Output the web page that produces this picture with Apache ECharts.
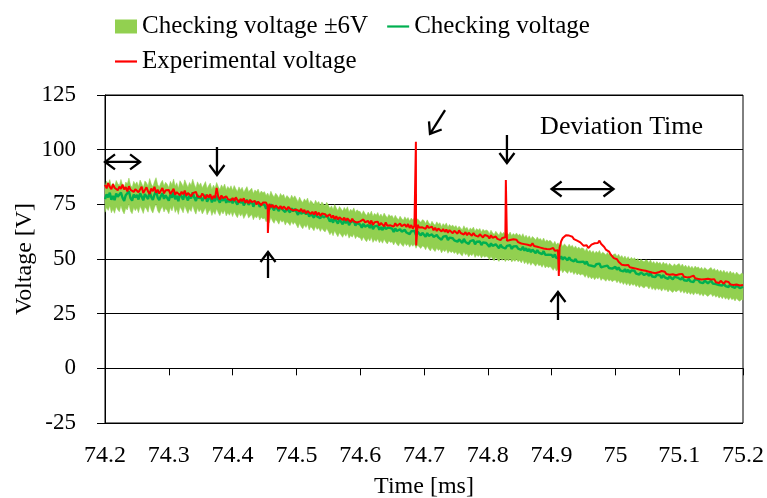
<!DOCTYPE html>
<html>
<head>
<meta charset="utf-8">
<script src="https://cdn.jsdelivr.net/npm/echarts@6/dist/echarts.min.js"></script>
<style>
  html, body { margin: 0; padding: 0; background: #fff; }
  #chart { width: 767px; height: 498px; }
</style>
</head>
<body>
<div id="chart"></div>
<script>
// Sampling grid of the traces (ms)
const timeStart = 74.2;
const timeStep = 0.0025;

// Checking voltage [V], one value per sample (20 samples per row = 0.05 ms)
const checkingVoltage = [
  77.4, 79.6, 78.2, 80.3, 77.1, 78.8, 76.9, 79.9, 78.5, 77.6, 80.4, 78.0, 76.6, 79.2, 78.4, 81.0, 77.8, 76.7, 79.5, 78.1,
  79.3, 77.2, 80.1, 78.6, 76.8, 79.7, 78.9, 77.4, 80.8, 78.3, 77.0, 79.4, 81.2, 78.1, 76.9, 78.8, 80.0, 77.5, 79.1, 78.2,
  76.7, 79.5, 78.0, 80.6, 77.3, 78.9, 76.4, 79.8, 78.6, 77.1, 80.2, 78.4, 76.8, 79.0, 77.7, 80.5, 78.1, 76.5, 79.3, 77.6,
  78.8, 76.6, 77.9, 79.4, 76.2, 77.6, 78.7, 75.9, 77.8, 76.4, 79.0, 77.1, 75.8, 77.9, 76.6, 78.3, 75.7, 77.2, 76.0, 77.5,
  75.4, 77.6, 76.1, 74.9, 77.0, 75.6, 76.8, 74.5, 75.9, 77.1, 74.8, 75.5, 76.4, 73.9, 75.6, 74.7, 76.0, 73.8, 75.1, 74.3,
  74.8, 73.0, 74.2, 72.6, 75.0, 73.4, 72.3, 74.1, 73.2, 71.9, 74.0, 72.8, 73.6, 71.5, 73.0, 72.4, 71.3, 73.2, 71.8, 72.9,
  71.6, 70.2, 72.3, 70.7, 69.8, 71.5, 70.4, 71.9, 69.3, 70.8, 70.0, 68.9, 70.9, 69.5, 70.3, 68.6, 70.1, 69.0, 68.4, 69.9,
  68.7, 67.1, 68.3, 66.6, 68.9, 67.4, 66.2, 68.0, 67.0, 65.9, 67.6, 66.4, 67.9, 65.5, 66.8, 66.0, 67.4, 65.3, 66.5, 65.8,
  65.7, 64.3, 66.1, 64.8, 63.9, 65.5, 64.2, 65.9, 63.6, 64.9, 64.0, 65.3, 63.4, 64.6, 63.2, 65.0, 63.8, 62.9, 64.4, 63.5,
  63.9, 62.4, 64.0, 62.8, 61.9, 63.6, 62.5, 61.7, 63.3, 62.1, 63.0, 61.4, 62.7, 61.8, 62.9, 60.9, 62.4, 61.5, 60.8, 62.0,
  61.6, 60.2, 61.9, 60.6, 59.7, 61.3, 60.1, 59.4, 61.0, 59.9, 60.6, 58.8, 60.2, 59.3, 60.5, 58.6, 59.8, 58.9, 59.5, 58.5,
  59.3, 57.9, 59.0, 58.1, 57.4, 59.2, 57.8, 58.5, 56.9, 58.2, 57.5, 58.6, 56.7, 57.9, 57.1, 58.0, 56.4, 57.6, 56.8, 57.3,
  56.9, 55.6, 57.2, 56.0, 55.2, 56.7, 55.8, 54.9, 56.5, 55.4, 56.2, 54.8, 56.0, 55.1, 56.3, 54.6, 55.7, 54.9, 55.9, 54.7,
  55.4, 54.2, 55.6, 53.8, 54.9, 53.5, 54.6, 53.1, 54.3, 53.6, 52.7, 54.1, 52.9, 53.4, 52.2, 53.6, 51.9, 52.8, 52.0, 52.6,
  51.9, 50.8, 52.1, 50.5, 51.4, 50.1, 51.2, 49.7, 50.9, 50.2, 49.4, 50.8, 49.6, 50.3, 48.9, 50.0, 48.7, 49.5, 48.6, 49.1,
  48.8, 47.6, 48.9, 47.2, 48.1, 46.9, 47.8, 46.5, 47.6, 46.8, 47.9, 46.2, 47.1, 46.6, 45.8, 47.0, 45.9, 46.5, 45.6, 46.2,
  46.4, 45.1, 46.2, 44.8, 45.6, 44.3, 45.4, 44.0, 45.1, 43.7, 44.8, 43.9, 44.6, 43.3, 44.2, 42.9, 43.9, 43.2, 42.7, 43.6,
  43.4, 42.3, 43.6, 42.0, 42.9, 41.7, 42.8, 41.9, 42.5, 41.3, 42.6, 41.6, 42.2, 40.9, 42.0, 41.2, 40.7, 41.8, 40.9, 41.5,
  41.9, 40.6, 41.7, 40.3, 41.2, 40.0, 41.0, 39.8, 40.7, 39.5, 40.8, 39.9, 40.4, 39.3, 40.2, 39.0, 40.1, 39.4, 38.9, 39.7,
  40.1, 38.8, 39.7, 38.5, 39.3, 38.1, 39.0, 37.8, 38.9, 37.6, 38.4, 37.2, 38.5, 37.4, 37.9, 36.8, 38.0, 37.1, 36.7, 37.5,
  37.2
];

// Experimental voltage [V], one value per sample (20 samples per row = 0.05 ms)
const experimentalVoltage = [
  83.9, 82.3, 84.7, 83.0, 81.9, 84.2, 82.6, 83.5, 81.4, 83.1, 82.0, 84.0, 81.8, 82.9, 80.9, 83.3, 81.6, 82.4, 80.7, 81.9,
  82.6, 80.5, 81.8, 83.1, 80.2, 81.5, 82.8, 80.9, 79.8, 82.2, 81.0, 83.0, 80.3, 81.7, 79.9, 81.2, 82.5, 80.0, 81.4, 80.6,
  81.6, 79.7, 80.9, 82.1, 79.4, 80.6, 81.5, 79.1, 80.8, 79.6, 81.3, 78.9, 80.2, 81.0, 78.7, 80.1, 79.3, 80.7, 78.6, 79.5,
  78.4, 80.0, 78.8, 77.6, 79.4, 78.1, 79.6, 77.3, 78.9, 77.9, 82.5, 78.6, 77.2, 79.1, 77.8, 76.9, 78.7, 77.4, 78.3, 76.8,
  77.9, 76.6, 78.2, 77.0, 75.9, 77.5, 76.4, 77.8, 75.7, 76.9, 75.5, 77.1, 76.0, 75.2, 76.6, 74.9, 76.2, 75.4, 74.6, 75.8,
  74.9, 75.8, 74.1, 75.2, 73.7, 74.8, 73.3, 74.5, 75.3, 73.0, 74.2, 72.8, 74.0, 73.4, 72.5, 73.9, 72.9, 73.6, 72.2, 73.1,
  72.6, 73.3, 71.8, 72.9, 71.4, 72.5, 70.9, 71.9, 72.6, 70.6, 71.6, 70.3, 71.8, 70.0, 71.2, 69.7, 70.8, 69.9, 70.5, 69.4,
  69.5, 70.4, 68.8, 69.9, 68.3, 69.6, 68.0, 69.1, 70.0, 67.8, 68.9, 67.5, 68.6, 67.9, 66.9, 68.4, 67.2, 68.0, 66.7, 67.6,
  67.2, 66.3, 68.1, 66.8, 65.9, 67.4, 66.0, 67.6, 65.6, 66.8, 65.9, 67.1, 65.3, 66.5, 65.8, 64.9, 66.7, 65.2, 66.1, 65.4,
  65.9, 64.8, 66.4, 65.1, 64.4, 66.2, 65.0, 64.3, 65.8, 64.6, 66.0, 64.2, 65.5, 63.9, 65.2, 64.0, 65.6, 64.4, 65.1, 64.5,
  64.9, 63.8, 65.3, 64.2, 63.4, 64.8, 63.1, 64.3, 62.8, 63.9, 64.5, 62.6, 63.7, 62.4, 63.5, 62.0, 63.2, 62.5, 61.8, 62.9,
  62.7, 61.6, 63.1, 61.9, 62.6, 61.2, 62.3, 60.9, 62.0, 61.4, 60.6, 61.9, 60.8, 61.5, 60.2, 61.3, 60.5, 59.8, 61.0, 60.1,
  60.5, 59.4, 60.9, 59.7, 58.9, 60.3, 59.2, 60.0, 58.6, 59.6, 58.9, 59.9, 58.3, 59.1, 58.7, 57.9, 59.0, 58.2, 58.8, 57.7,
  58.3, 57.1, 58.0, 56.8, 57.7, 56.5, 57.4, 56.1, 57.2, 55.9, 56.8, 55.6, 56.3, 55.2, 56.0, 54.8, 55.7, 54.6, 55.3, 54.5,
  54.2, 55.0, 53.8, 54.6, 54.0, 55.2, 58.1, 59.6, 60.4, 60.9, 60.3, 60.7, 59.9, 60.2, 59.1, 59.5, 58.4, 58.8, 57.6, 57.0,
  56.1, 55.4, 56.3, 55.0, 55.8, 56.6, 55.7, 57.2, 58.1, 57.3, 58.4, 57.0, 56.2, 55.5, 54.3, 54.8, 53.4, 52.1, 51.6, 50.4,
  49.6, 49.9, 48.7, 48.3, 47.4, 48.0, 47.1, 46.5, 47.3, 46.2, 46.8, 45.9, 46.5, 45.6, 46.3, 45.2, 45.9, 44.9, 45.7, 44.6,
  45.1, 44.2, 44.9, 43.8, 44.6, 43.5, 44.4, 43.9, 43.2, 44.5, 43.6, 44.2, 43.1, 43.9, 42.8, 43.7, 43.0, 43.6, 42.6, 43.3,
  43.0, 42.2, 43.2, 41.9, 42.7, 41.6, 42.5, 41.8, 41.3, 42.4, 41.2, 42.0, 40.9, 41.7, 40.6, 41.4, 40.8, 40.2, 41.0, 40.3,
  40.6, 39.7, 40.8, 39.4, 40.2, 39.0, 40.0, 39.3, 38.7, 39.8, 38.9, 39.5, 38.4, 39.2, 38.1, 39.0, 38.3, 38.8, 37.9, 38.6,
  38.1
];

// Short spikes of the experimental voltage: [time ms, voltage V]
const experimentalSpikes = [
  [74.4553, 61.9],
  [74.6873, 103.6],
  [74.6877, 56.2],
  [74.8283, 86.1],
  [74.9113, 42.2]
];

// Tolerance around the checking voltage [V]
const bandHalfWidth = 6;

// Axis ranges
const timeMin = 74.2, timeMax = 75.2, timeInterval = 0.1;
const voltMin = -25, voltMax = 125, voltInterval = 25;

// Annotation arrows, in data coordinates [time, voltage]
const arrows = [
  { from: [74.2, 94.4],     to: [74.255, 94.4],  both: true },
  { from: [74.3755, 101.2], to: [74.3755, 88.4] },
  { from: [74.4555, 41.3],  to: [74.4555, 53.2] },
  { from: [74.733, 118.1],  to: [74.7094, 107.2] },
  { from: [74.830, 106.7],  to: [74.830, 93.9] },
  { from: [74.900, 82],     to: [74.997, 82],    both: true },
  { from: [74.910, 22.1],   to: [74.910, 34.9] }
];
const noteText = 'Deviation Time';
const notePos = [74.882, 110.5];

const SERIF = '"Liberation Serif", "Times New Roman", serif';
const BAND_COLOR = '#92d050';
const CHECK_COLOR = '#00b050';
const EXP_COLOR = '#ff0000';

const sampleTime = i => Math.round((timeStart + i * timeStep) * 10000) / 10000;
const checkPts = checkingVoltage.map((v, i) => [sampleTime(i), v]);
const expPts = experimentalVoltage.map((v, i) => [sampleTime(i), v])
  .concat(experimentalSpikes)
  .sort((a, b) => a[0] - b[0]);

const lineIcon = 'path://M0,0H22V2.2H0Z';

const chart = echarts.init(document.getElementById('chart'), null, { renderer: 'canvas' });

// Tolerance band: one polygon, checking voltage + 6 V forward and - 6 V back
function renderBand(params, api) {
  const upper = checkPts.map(p => api.coord([p[0], p[1] + bandHalfWidth]));
  const lower = checkPts.slice().reverse().map(p => api.coord([p[0], p[1] - bandHalfWidth]));
  return {
    type: 'polygon',
    shape: { points: upper.concat(lower) },
    style: { fill: BAND_COLOR, stroke: BAND_COLOR, lineWidth: 0.5 },
    silent: true
  };
}

chart.setOption({
  animation: false,
  backgroundColor: '#fff',
  textStyle: { fontFamily: SERIF },
  grid: {
    left: 105, right: 24, top: 95, bottom: 75,
    outerBoundsMode: 'none', containLabel: false,
    show: true, borderColor: '#000', borderWidth: 1, backgroundColor: 'transparent'
  },
  legend: {
    left: 115, top: 14, width: 500, padding: 0,
    itemWidth: 22, itemHeight: 14, itemGap: 10,
    textStyle: { fontFamily: SERIF, fontSize: 25, color: '#000', padding: [0, 9, 0, 0], lineHeight: 25 },
    data: [
      { name: 'Checking voltage ±6V', icon: 'rect' },
      { name: 'Checking voltage', icon: lineIcon },
      { name: 'Experimental voltage', icon: lineIcon }
    ]
  },
  xAxis: {
    type: 'value',
    min: timeMin, max: timeMax, interval: timeInterval,
    name: 'Time [ms]', nameLocation: 'middle', nameGap: 52, nameMoveOverlap: false,
    nameTextStyle: { fontFamily: SERIF, fontSize: 24, color: '#000' },
    axisLine: { lineStyle: { color: '#000', width: 1 } },
    axisTick: { show: true, inside: false, length: 7, lineStyle: { color: '#000' } },
    axisLabel: { fontFamily: SERIF, fontSize: 24, color: '#000', margin: 21 },
    splitLine: { show: false }
  },
  yAxis: {
    type: 'value',
    min: voltMin, max: voltMax, interval: voltInterval,
    name: 'Voltage [V]', nameLocation: 'middle', nameGap: 68, nameMoveOverlap: false,
    nameTextStyle: { fontFamily: SERIF, fontSize: 24, color: '#000' },
    axisLine: { show: true, lineStyle: { color: '#000', width: 1 } },
    axisTick: { show: true, inside: false, length: 8, lineStyle: { color: '#000' } },
    axisLabel: { fontFamily: SERIF, fontSize: 23, color: '#000', margin: 29 },
    splitLine: { show: true, lineStyle: { color: '#000', width: 1 } }
  },
  series: [
    {
      name: 'Checking voltage ±6V', type: 'custom',
      data: [[timeMin, voltMin]],
      renderItem: renderBand,
      silent: true,
      itemStyle: { color: BAND_COLOR }
    },
    {
      name: 'Checking voltage', type: 'line', data: checkPts,
      symbol: 'none', silent: true,
      lineStyle: { color: CHECK_COLOR, width: 2.4 },
      itemStyle: { color: CHECK_COLOR }
    },
    {
      name: 'Experimental voltage', type: 'line', data: expPts,
      symbol: 'none', silent: true,
      lineStyle: { color: EXP_COLOR, width: 2 },
      itemStyle: { color: EXP_COLOR }
    }
  ]
});

// Arrows and the note are placed through the chart's own coordinate conversion
function headPoints(tip, tail, len, half) {
  const dx = tip[0] - tail[0], dy = tip[1] - tail[1];
  const d = Math.hypot(dx, dy) || 1;
  const ux = dx / d, uy = dy / d;
  const bx = tip[0] - ux * len, by = tip[1] - uy * len;
  return [[bx - uy * half, by + ux * half], tip, [bx + uy * half, by - ux * half]];
}

function drawAnnotations() {
  const els = [];
  const stroke = { stroke: '#000', lineWidth: 2.3, fill: null };
  arrows.forEach(a => {
    const p0 = chart.convertToPixel({ gridIndex: 0 }, a.from);
    const p1 = chart.convertToPixel({ gridIndex: 0 }, a.to);
    els.push({ type: 'polyline', shape: { points: [p0, p1] }, style: stroke, silent: true, z: 100 });
    els.push({ type: 'polyline', shape: { points: headPoints(p1, p0, 10, 7.5) }, style: stroke, silent: true, z: 100 });
    if (a.both) {
      els.push({ type: 'polyline', shape: { points: headPoints(p0, p1, 10, 7.5) }, style: stroke, silent: true, z: 100 });
    }
  });
  const np = chart.convertToPixel({ gridIndex: 0 }, notePos);
  els.push({
    type: 'text', x: np[0], y: np[1], silent: true, z: 100,
    style: { text: noteText, fill: '#000', font: '26px ' + SERIF, textVerticalAlign: 'middle', textAlign: 'left' }
  });
  chart.setOption({ graphic: { elements: els } });
}
drawAnnotations();
</script>
</body>
</html>
